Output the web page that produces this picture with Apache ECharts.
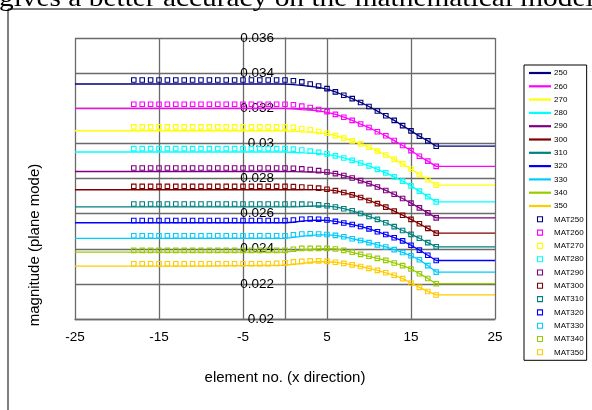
<!DOCTYPE html>
<html>
<head>
<meta charset="utf-8">
<script src="https://cdn.jsdelivr.net/npm/echarts@6/dist/echarts.min.js"></script>
<style>
  html, body { margin: 0; padding: 0; background: #fff; }
  #chart { width: 592px; height: 410px; }
</style>
</head>
<body>
<div id="chart"></div>
<script>
// x positions (element no.)
const lineX = [-25, -10, 0, 1, 2, 3, 4, 5, 6, 7, 8, 9, 10, 11, 12, 13, 14, 15, 16, 17, 18, 25];
const matX = [-18, -17, -16, -15, -14, -13, -12, -11, -10, -9, -8, -7, -6, -5, -4, -3, -2, -1,
  0, 1, 2, 3, 4, 5, 6, 7, 8, 9, 10, 11, 12, 13, 14, 15, 16, 17, 18];

const lineNames = ['250', '260', '270', '280', '290', '300', '310', '320', '330', '340', '350'];
const matNames = ['MAT250', 'MAT260', 'MAT270', 'MAT280', 'MAT290', 'MAT300', 'MAT310', 'MAT320', 'MAT330', 'MAT340', 'MAT350'];
const colors = ['#000080', '#ff00ff', '#ffff00', '#00ffff', '#800080', '#800000', '#008080', '#0000ff', '#00ccff', '#99cc00', '#ffcc00'];

// computed curves (values at lineX)
const line250 = [0.03338, 0.03338, 0.03338, 0.03334, 0.03330, 0.03324, 0.03319, 0.03309, 0.03293, 0.03274, 0.03255, 0.03233, 0.03210, 0.03184, 0.03157, 0.03131, 0.03101, 0.03071, 0.03041, 0.03014, 0.02984, 0.02984];
const line260 = [0.03199, 0.03199, 0.03199, 0.03196, 0.03192, 0.03190, 0.03185, 0.03177, 0.03165, 0.03149, 0.03131, 0.03110, 0.03090, 0.03066, 0.03043, 0.03016, 0.02988, 0.02959, 0.02927, 0.02899, 0.02869, 0.02869];
const line270 = [0.03072, 0.03072, 0.03072, 0.03069, 0.03066, 0.03064, 0.03060, 0.03055, 0.03044, 0.03030, 0.03014, 0.02997, 0.02978, 0.02956, 0.02934, 0.02909, 0.02883, 0.02854, 0.02823, 0.02793, 0.02762, 0.02762];
const line280 = [0.02951, 0.02951, 0.02951, 0.02948, 0.02946, 0.02945, 0.02942, 0.02937, 0.02929, 0.02917, 0.02903, 0.02888, 0.02872, 0.02852, 0.02832, 0.02809, 0.02785, 0.02758, 0.02728, 0.02697, 0.02667, 0.02667];
const line290 = [0.02840, 0.02840, 0.02840, 0.02839, 0.02838, 0.02837, 0.02836, 0.02833, 0.02828, 0.02817, 0.02803, 0.02788, 0.02771, 0.02752, 0.02732, 0.02710, 0.02686, 0.02660, 0.02633, 0.02604, 0.02576, 0.02576];
const line300 = [0.02736, 0.02736, 0.02736, 0.02736, 0.02736, 0.02737, 0.02737, 0.02735, 0.02731, 0.02720, 0.02707, 0.02692, 0.02675, 0.02657, 0.02637, 0.02614, 0.02591, 0.02567, 0.02542, 0.02516, 0.02489, 0.02489];
const line310 = [0.02639, 0.02639, 0.02639, 0.02639, 0.02640, 0.02643, 0.02644, 0.02643, 0.02638, 0.02628, 0.02616, 0.02601, 0.02584, 0.02567, 0.02548, 0.02526, 0.02504, 0.02482, 0.02460, 0.02435, 0.02411, 0.02411];
const line320 = [0.02548, 0.02548, 0.02548, 0.02551, 0.02557, 0.02561, 0.02563, 0.02562, 0.02556, 0.02547, 0.02538, 0.02527, 0.02513, 0.02497, 0.02481, 0.02463, 0.02445, 0.02420, 0.02392, 0.02363, 0.02333, 0.02333];
const line330 = [0.02459, 0.02459, 0.02459, 0.02465, 0.02471, 0.02476, 0.02479, 0.02479, 0.02476, 0.02468, 0.02457, 0.02447, 0.02435, 0.02422, 0.02410, 0.02395, 0.02379, 0.02360, 0.02337, 0.02304, 0.02267, 0.02267];
const line340 = [0.02381, 0.02381, 0.02381, 0.02387, 0.02393, 0.02396, 0.02399, 0.02400, 0.02399, 0.02391, 0.02380, 0.02368, 0.02357, 0.02345, 0.02334, 0.02319, 0.02304, 0.02285, 0.02258, 0.02231, 0.02201, 0.02201];
const line350 = [0.02301, 0.02301, 0.02306, 0.02311, 0.02316, 0.02323, 0.02326, 0.02326, 0.02323, 0.02317, 0.02308, 0.02299, 0.02288, 0.02277, 0.02263, 0.02249, 0.02230, 0.02205, 0.02180, 0.02157, 0.02137, 0.02137];

// measured (MAT) values at matX
const mat250 = [0.03361, 0.03361, 0.03361, 0.03361, 0.03361, 0.03361, 0.03361, 0.03361, 0.03361, 0.03361, 0.03361, 0.03361, 0.03361, 0.03361, 0.03361, 0.03361, 0.03361, 0.03361,
  0.03361, 0.03357, 0.03350, 0.03338, 0.03327, 0.03312, 0.03293, 0.03274, 0.03255, 0.03233, 0.03210, 0.03184, 0.03157, 0.03131, 0.03101, 0.03071, 0.03041, 0.03014, 0.02984];
const mat260 = [0.03223, 0.03223, 0.03223, 0.03223, 0.03223, 0.03223, 0.03223, 0.03223, 0.03223, 0.03223, 0.03223, 0.03223, 0.03223, 0.03223, 0.03223, 0.03223, 0.03223, 0.03223,
  0.03223, 0.03220, 0.03212, 0.03204, 0.03193, 0.03181, 0.03165, 0.03149, 0.03131, 0.03110, 0.03090, 0.03066, 0.03043, 0.03016, 0.02988, 0.02959, 0.02927, 0.02899, 0.02869];
const mat270 = [0.03094, 0.03094, 0.03094, 0.03094, 0.03094, 0.03094, 0.03094, 0.03094, 0.03094, 0.03094, 0.03094, 0.03094, 0.03094, 0.03094, 0.03094, 0.03094, 0.03094, 0.03094,
  0.03094, 0.03091, 0.03085, 0.03077, 0.03068, 0.03058, 0.03044, 0.03030, 0.03014, 0.02997, 0.02978, 0.02956, 0.02934, 0.02909, 0.02883, 0.02854, 0.02823, 0.02793, 0.02762];
const mat280 = [0.02970, 0.02970, 0.02970, 0.02970, 0.02970, 0.02970, 0.02970, 0.02970, 0.02970, 0.02970, 0.02970, 0.02970, 0.02970, 0.02970, 0.02970, 0.02970, 0.02970, 0.02970,
  0.02970, 0.02967, 0.02962, 0.02956, 0.02949, 0.02940, 0.02929, 0.02917, 0.02903, 0.02888, 0.02872, 0.02852, 0.02832, 0.02809, 0.02785, 0.02758, 0.02728, 0.02697, 0.02667];
const mat290 = [0.02860, 0.02860, 0.02860, 0.02860, 0.02860, 0.02860, 0.02860, 0.02860, 0.02860, 0.02860, 0.02860, 0.02860, 0.02860, 0.02860, 0.02860, 0.02860, 0.02860, 0.02860,
  0.02860, 0.02858, 0.02855, 0.02851, 0.02845, 0.02837, 0.02828, 0.02817, 0.02803, 0.02788, 0.02771, 0.02752, 0.02732, 0.02710, 0.02686, 0.02660, 0.02633, 0.02604, 0.02576];
const mat300 = [0.02755, 0.02755, 0.02755, 0.02755, 0.02755, 0.02755, 0.02755, 0.02755, 0.02755, 0.02755, 0.02755, 0.02755, 0.02755, 0.02755, 0.02755, 0.02755, 0.02755, 0.02755,
  0.02755, 0.02754, 0.02752, 0.02749, 0.02745, 0.02739, 0.02731, 0.02720, 0.02707, 0.02692, 0.02675, 0.02657, 0.02637, 0.02614, 0.02591, 0.02567, 0.02542, 0.02516, 0.02489];
const mat310 = [0.02655, 0.02655, 0.02655, 0.02655, 0.02655, 0.02655, 0.02655, 0.02655, 0.02655, 0.02655, 0.02655, 0.02655, 0.02655, 0.02655, 0.02655, 0.02655, 0.02655, 0.02655,
  0.02655, 0.02655, 0.02654, 0.02653, 0.02650, 0.02645, 0.02638, 0.02628, 0.02616, 0.02601, 0.02584, 0.02567, 0.02548, 0.02526, 0.02504, 0.02482, 0.02460, 0.02435, 0.02411];
const mat320 = [0.02561, 0.02561, 0.02561, 0.02561, 0.02561, 0.02561, 0.02561, 0.02561, 0.02561, 0.02561, 0.02561, 0.02561, 0.02561, 0.02561, 0.02561, 0.02561, 0.02561, 0.02561,
  0.02561, 0.02564, 0.02568, 0.02569, 0.02568, 0.02564, 0.02556, 0.02547, 0.02538, 0.02527, 0.02513, 0.02497, 0.02481, 0.02463, 0.02445, 0.02420, 0.02392, 0.02363, 0.02333];
const mat330 = [0.02474, 0.02474, 0.02474, 0.02474, 0.02474, 0.02474, 0.02474, 0.02474, 0.02474, 0.02474, 0.02474, 0.02474, 0.02474, 0.02474, 0.02474, 0.02474, 0.02474, 0.02474,
  0.02474, 0.02480, 0.02484, 0.02485, 0.02484, 0.02481, 0.02476, 0.02468, 0.02457, 0.02447, 0.02435, 0.02422, 0.02410, 0.02395, 0.02379, 0.02360, 0.02337, 0.02304, 0.02267];
const mat340 = [0.02391, 0.02391, 0.02391, 0.02391, 0.02391, 0.02391, 0.02391, 0.02391, 0.02391, 0.02391, 0.02391, 0.02391, 0.02391, 0.02391, 0.02391, 0.02391, 0.02391, 0.02391,
  0.02391, 0.02397, 0.02402, 0.02402, 0.02402, 0.02402, 0.02399, 0.02391, 0.02380, 0.02368, 0.02357, 0.02345, 0.02334, 0.02319, 0.02304, 0.02285, 0.02258, 0.02231, 0.02201];
const mat350 = [0.02315, 0.02315, 0.02315, 0.02315, 0.02315, 0.02315, 0.02315, 0.02315, 0.02315, 0.02315, 0.02315, 0.02315, 0.02315, 0.02315, 0.02315, 0.02315, 0.02315, 0.02317,
  0.02320, 0.02325, 0.02328, 0.02331, 0.02331, 0.02328, 0.02323, 0.02317, 0.02308, 0.02299, 0.02288, 0.02277, 0.02263, 0.02249, 0.02230, 0.02205, 0.02180, 0.02157, 0.02137];

const lineValues = [line250, line260, line270, line280, line290, line300, line310, line320, line330, line340, line350];
const matValues = [mat250, mat260, mat270, mat280, mat290, mat300, mat310, mat320, mat330, mat340, mat350];

const FONT = '"Liberation Sans", Arial, sans-serif';
const GRIDCOLOR = '#6a6a6a';

const chart = echarts.init(document.getElementById('chart'), null, { renderer: 'canvas' });

const series = [];
lineNames.forEach((name, i) => {
  series.push({
    name: name,
    type: 'line',
    data: lineX.map((x, j) => [x, lineValues[i][j]]),
    symbol: 'none',
    lineStyle: { color: colors[i], width: 1.3 },
    itemStyle: { color: colors[i] },
    z: 2
  });
});
matNames.forEach((name, i) => {
  series.push({
    name: name,
    type: 'scatter',
    data: matX.map((x, j) => [x, matValues[i][j]]),
    symbol: 'rect',
    symbolSize: 4.5,
    itemStyle: { color: 'rgba(255,255,255,0)', borderColor: colors[i], borderWidth: 1.1, opacity: 1 },
    z: 3
  });
});

// legend entries: thin bar for the lines, small hollow square for MAT
const legendData = lineNames.map((name, i) => ({
  name: name,
  icon: 'path://M0,0H22V2.2H0Z',
  itemStyle: { color: colors[i], borderWidth: 0 }
})).concat(matNames.map((name, i) => ({
  name: name,
  icon: 'path://M0,0H10V10H0Z',
  itemStyle: { color: 'rgba(255,255,255,0)', borderColor: colors[i], borderWidth: 1.1 }
})));

chart.setOption({
  animation: false,
  grid: { left: 75, right: 97, top: 38, bottom: 91, show: false },
  xAxis: {
    type: 'value',
    min: -25,
    max: 25,
    interval: 10,
    axisLine: { onZero: false, lineStyle: { color: GRIDCOLOR, width: 1.3 } },
    axisTick: { show: false },
    axisLabel: { color: '#000', fontFamily: FONT, fontSize: 13.5, margin: 11 },
    splitLine: { show: true, lineStyle: { color: GRIDCOLOR, width: 1.3 } }
  },
  yAxis: {
    type: 'value',
    min: 0.02,
    max: 0.036,
    interval: 0.002,
    offset: -210, // put the axis at x = 0
    axisLine: { show: true, onZero: false, lineStyle: { color: GRIDCOLOR, width: 1.3 } },
    axisTick: { show: true, length: 4, lineStyle: { color: GRIDCOLOR } },
    axisLabel: { color: '#000', fontFamily: FONT, fontSize: 13.5, margin: 11 },
    splitLine: { show: true, lineStyle: { color: GRIDCOLOR, width: 1.3 } }
  },
  legend: {
    orient: 'vertical',
    left: 524,
    top: 65,
    data: legendData,
    itemWidth: 22,
    itemHeight: 5,
    itemGap: 5.3,
    symbolKeepAspect: true,
    padding: [4, 3, 4, 5],
    borderColor: '#000',
    borderWidth: 1,
    textStyle: { fontFamily: FONT, fontSize: 8, lineHeight: 8, color: '#000', padding: [0, 0, 0, -2] }
  },
  graphic: [
    {
      type: 'rect',
      shape: { x: 8, y: 9, width: 620, height: 440 },
      style: { fill: 'none', stroke: '#000', lineWidth: 1 },
      silent: true
    },
    {
      type: 'text',
      x: -1,
      y: 12,
      scaleX: 1.13,
      style: {
        text: 'gives a better accuracy on the mathematical model',
        fontFamily: '"Liberation Serif", "Times New Roman", serif',
        fontSize: 26,
        fill: '#000',
        textVerticalAlign: 'bottom'
      }
    },
    {
      type: 'text',
      x: 285,
      y: 378,
      style: {
        text: 'element no. (x direction)',
        fontFamily: FONT,
        fontSize: 15,
        fill: '#000',
        textAlign: 'center',
        textVerticalAlign: 'middle'
      }
    },
    {
      type: 'text',
      x: 35,
      y: 245,
      rotation: Math.PI / 2,
      style: {
        text: 'magnitude (plane mode)',
        fontFamily: FONT,
        fontSize: 15,
        fill: '#000',
        textAlign: 'center',
        textVerticalAlign: 'middle'
      }
    }
  ],
  series: series
});
</script>
</body>
</html>
